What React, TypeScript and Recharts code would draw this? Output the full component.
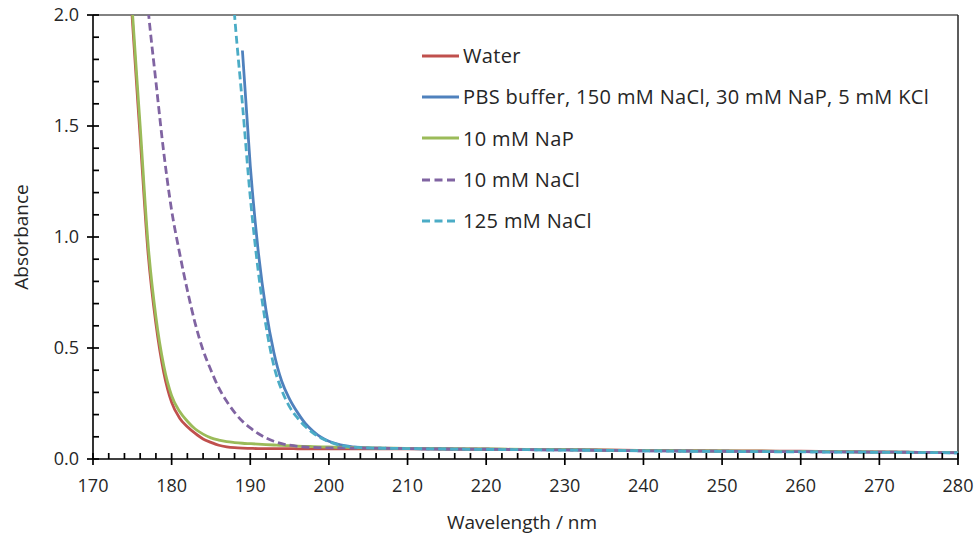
import React from "react";
import {
  LineChart,
  Line,
  XAxis,
  YAxis,
  Legend,
  ReferenceLine,
  Label,
} from "recharts";

const FONT = "'Open Sans', Lato, sans-serif";
const TICK_COLOR = "#000";

// wavelength in nm
const wavelengths = [
  174, 175, 176, 177, 178, 179, 180, 181, 182, 183, 184, 185, 186, 187, 188, 189,
  190, 191, 192, 193, 194, 195, 196, 197, 198, 199, 200, 201, 202, 203, 204, 205,
  210, 215, 220, 225, 230, 235, 240, 245, 250, 255, 260, 265, 270, 275, 280,
];

const water = [
  2.6, 1.98, 1.45, 0.93, 0.61, 0.39, 0.255, 0.185, 0.145, 0.115, 0.09, 0.075, 0.062, 0.055, 0.051, 0.049,
  0.048, 0.047, 0.047, 0.047, 0.047, 0.047, 0.046, 0.046, 0.046, 0.046, 0.046, 0.046, 0.046, 0.046, 0.046, 0.046,
  0.046, 0.045, 0.044, 0.043, 0.042, 0.041, 0.039, 0.038, 0.037, 0.036, 0.035, 0.033, 0.032, 0.03, 0.029,
];

const pbs = [
  null, null, null, null, null, null, null, null, null, null, null, null, null, null, null, 1.84,
  1.32, 0.94, 0.67, 0.48, 0.35, 0.27, 0.21, 0.16, 0.125, 0.098, 0.08, 0.068, 0.06, 0.055, 0.052, 0.05,
  0.047, 0.045, 0.044, 0.042, 0.041, 0.039, 0.037, 0.036, 0.035, 0.034, 0.033, 0.032, 0.031, 0.03, 0.028,
];

const nap10 = [
  2.65, 2.02, 1.5, 0.97, 0.64, 0.42, 0.285, 0.215, 0.17, 0.135, 0.112, 0.095, 0.085, 0.078, 0.074, 0.071,
  0.069, 0.067, 0.065, 0.063, 0.061, 0.06, 0.058, 0.057, 0.056, 0.055, 0.054, 0.053, 0.052, 0.051, 0.05, 0.05,
  0.048, 0.046, 0.045, 0.043, 0.042, 0.04, 0.038, 0.037, 0.036, 0.035, 0.034, 0.033, 0.031, 0.03, 0.029,
];

const nacl10 = [
  null, null, 2.45, 2.03, 1.7, 1.38, 1.12, 0.93, 0.76, 0.61, 0.49, 0.4, 0.32, 0.26, 0.21, 0.17,
  0.14, 0.115, 0.095, 0.08, 0.069, 0.062, 0.057, 0.054, 0.052, 0.051, 0.05, 0.05, 0.05, 0.049, 0.049, 0.049,
  0.047, 0.045, 0.044, 0.042, 0.041, 0.039, 0.037, 0.036, 0.035, 0.034, 0.033, 0.032, 0.031, 0.03, 0.028,
];

const nacl125 = [
  null, null, null, null, null, null, null, null, null, null, null, null, null, 2.5, 2.0, 1.6,
  1.18, 0.85, 0.6, 0.42, 0.31, 0.235, 0.185, 0.146, 0.117, 0.095, 0.078, 0.066, 0.058, 0.054, 0.051, 0.05,
  0.047, 0.045, 0.043, 0.042, 0.04, 0.039, 0.037, 0.035, 0.034, 0.033, 0.032, 0.031, 0.03, 0.029, 0.028,
];

const xMajorTicks = [170, 180, 190, 200, 210, 220, 230, 240, 250, 260, 270, 280];
const yMajorTicks = [0, 0.5, 1.0, 1.5, 2.0];

const series = [
  { key: "water", name: "Water", color: "#C0504D", dash: undefined },
  { key: "pbs", name: "PBS buffer, 150 mM NaCl, 30 mM NaP, 5 mM KCl", color: "#4F81BD", dash: undefined },
  { key: "nap10", name: "10 mM NaP", color: "#9BBB59", dash: undefined },
  { key: "nacl10", name: "10 mM NaCl", color: "#8064A2", dash: "8 4" },
  { key: "nacl125", name: "125 mM NaCl", color: "#4BACC6", dash: "8 4" },
];

const data = wavelengths.map((wl, i) => ({
  wl,
  water: water[i],
  pbs: pbs[i],
  nap10: nap10[i],
  nacl10: nacl10[i],
  nacl125: nacl125[i],
}));

// minor ticks every 2 nm / 0.1 absorbance
const xTicks: number[] = [];
for (let v = 170; v <= 280; v += 2) xTicks.push(v);
const yTicks: number[] = [];
for (let i = 0; i <= 20; i++) yTicks.push(i / 10);

const XTick = (props: any) => {
  const { x, y, payload } = props;
  const major = xMajorTicks.includes(payload.value);
  return (
    <g>
      <line x1={x} x2={x} y1={y - 6} y2={major ? y + 6 : y} stroke={TICK_COLOR} strokeWidth={1.7} />
      {major && (
        <text x={x} y={y + 33} textAnchor="middle" fontSize={18} fontFamily={FONT} fill="#262626">
          {payload.value}
        </text>
      )}
    </g>
  );
};

const YTick = (props: any) => {
  const { x, y, payload } = props;
  const major = yMajorTicks.some((t) => Math.abs(t - payload.value) < 1e-6);
  return (
    <g>
      <line x1={major ? x - 6 : x} x2={x + 6} y1={y} y2={y} stroke={TICK_COLOR} strokeWidth={1.7} />
      {major && (
        <text x={x - 14} y={y + 6} textAnchor="end" fontSize={18} fontFamily={FONT} fill="#262626">
          {payload.value.toFixed(1)}
        </text>
      )}
    </g>
  );
};

const LegendBox = () => (
  <div style={{ fontFamily: FONT, fontSize: 20, letterSpacing: 0.35, color: "#262626" }}>
    {series.map((s) => (
      <div key={s.key} style={{ display: "flex", alignItems: "center", height: 41.3 }}>
        <svg width={40} height={6} style={{ marginRight: 1 }}>
          <line x1={0} x2={37} y1={3} y2={3} stroke={s.color} strokeWidth={2.8} strokeDasharray={s.dash ? "8 4.5" : undefined} />
        </svg>
        <span style={{ whiteSpace: "nowrap" }}>{s.name}</span>
      </div>
    ))}
  </div>
);

export default function App() {
  return (
    <div style={{ position: "absolute", left: 0, top: 0, width: 976, height: 537, background: "#fff" }}>
      <LineChart width={976} height={537} data={data} margin={{ top: 15, right: 18, left: 0, bottom: 0 }}>
        <XAxis
          dataKey="wl"
          type="number"
          domain={[170, 280]}
          ticks={xTicks}
          interval={0}
          height={78}
          tickSize={0}
          tickMargin={0}
          tickLine={false}
          tick={<XTick />}
          stroke="#000"
          strokeWidth={1.6}
        >
          <Label
            content={() => (
              <text x={522} y={529} textAnchor="middle" fontSize={19} fontFamily={FONT} fill="#262626">
                Wavelength / nm
              </text>
            )}
          />
        </XAxis>
        <YAxis
          type="number"
          domain={[0, 2]}
          allowDataOverflow
          ticks={yTicks}
          interval={0}
          width={93}
          tickSize={0}
          tickMargin={0}
          tickLine={false}
          tick={<YTick />}
          stroke="#000"
          strokeWidth={1.6}
        >
          <Label
            content={() => (
              <text
                x={28}
                y={237}
                transform="rotate(-90 28 237)"
                textAnchor="middle"
                fontSize={19}
                fontFamily={FONT}
                fill="#262626"
              >
                Absorbance
              </text>
            )}
          />
        </YAxis>
        <ReferenceLine y={2} stroke="#595959" strokeWidth={1.5} />
        <ReferenceLine x={280} stroke="#262626" strokeWidth={1.5} />
        <Legend
          layout="vertical"
          align="center"
          verticalAlign="middle"
          content={<LegendBox />}
          wrapperStyle={{ left: 422, top: 35, width: 545 }}
        />
        {series.map((s) => (
          <Line
            key={s.key}
            dataKey={s.key}
            name={s.name}
            type="monotone"
            stroke={s.color}
            strokeWidth={2.8}
            strokeDasharray={s.dash}
            dot={false}
            activeDot={false}
            connectNulls={false}
            isAnimationActive={false}
          />
        ))}
      </LineChart>
    </div>
  );
}
